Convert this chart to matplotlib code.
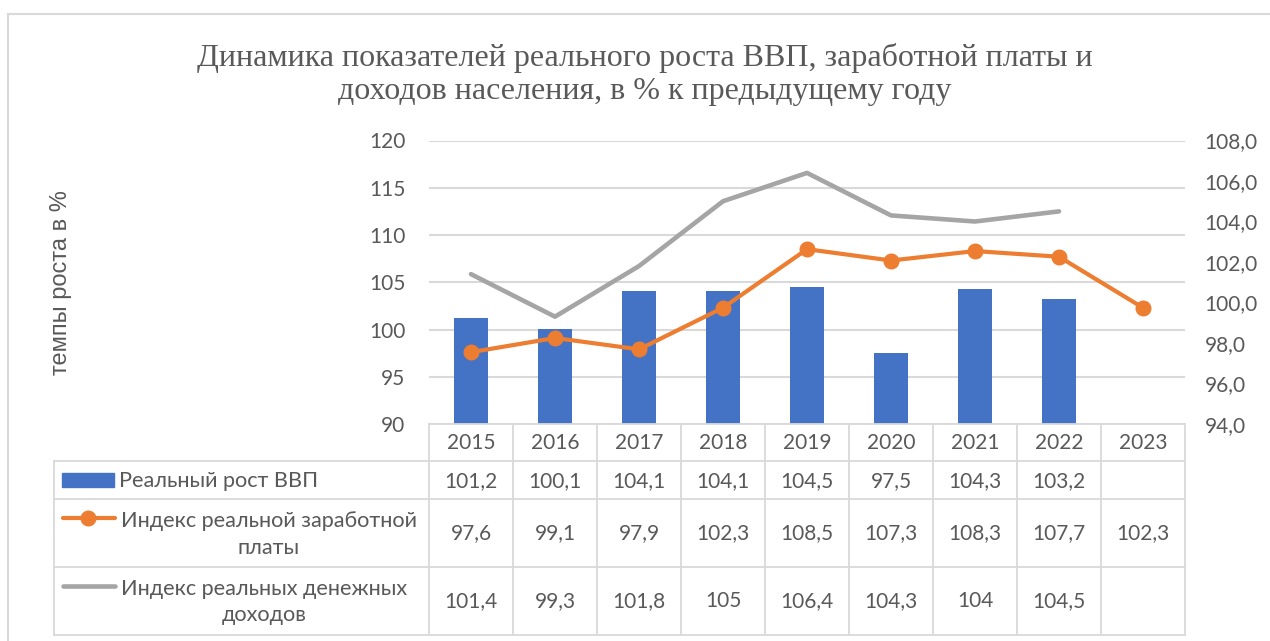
import numpy as np
import matplotlib
matplotlib.use('Agg')
import matplotlib.pyplot as plt
from matplotlib.lines import Line2D
from matplotlib.patches import Rectangle
import matplotlib.transforms as mtrans

years = ['2015', '2016', '2017', '2018', '2019', '2020', '2021', '2022', '2023']
gdp = [101.2, 100.1, 104.1, 104.1, 104.5, 97.5, 104.3, 103.2, None]
wages = [97.6, 99.1, 97.9, 102.3, 108.5, 107.3, 108.3, 107.7, 102.3]
income = [101.4, 99.3, 101.8, 105, 106.4, 104.3, 104, 104.5, None]

# how the values are printed in the table (as in the source)
gdp_txt = ['101,2', '100,1', '104,1', '104,1', '104,5', '97,5', '104,3', '103,2', '']
wages_txt = ['97,6', '99,1', '97,9', '102,3', '108,5', '107,3', '108,3', '107,7', '102,3']
income_txt = ['101,4', '99,3', '101,8', '105', '106,4', '104,3', '104', '104,5', '']

gdp_lbl = 'Реальный рост ВВП'
wages_lbl = 'Индекс реальной заработной\nплаты'
income_lbl = 'Индекс реальных денежных\nдоходов'

BLUE = '#4472C4'
ORANGE = '#ED7D31'
GRAY = '#A5A5A5'
TXT = '#595959'
GRID = '#D9D9D9'
FONT = 'Lato'
FS = 15

W, H = 1270, 641


def fx(px):
  return px / W


def fy(py):
  return 1 - py / H


def main():
  fig = plt.figure(figsize=(W / 100, H / 100), dpi=100)
  x = np.arange(len(years))
  ax = fig.add_axes([fx(429), fy(424), fx(1185 - 429), (424 - 140.5) / H])
  ax2 = ax.twinx()

  g = np.array([np.nan if v is None else v for v in gdp])
  ax.bar(x, g - 90, bottom=90, width=0.4, color=BLUE, zorder=2)
  ax.plot(x, wages, color=ORANGE, lw=3, marker='o', ms=10.5, zorder=4)
  inc = np.array([np.nan if v is None else v for v in income])
  ax2.plot(x, inc, color=GRAY, lw=3.3, zorder=3, solid_capstyle='round')

  ax.set_xlim(-0.5, len(years) - 0.5)
  ax.set_ylim(90, 120)
  ax.set_yticks(np.arange(90, 121, 5))
  ax2.set_ylim(94, 108)
  r_ticks = np.arange(94, 108.1, 2)
  ax2.set_yticks(r_ticks)
  ax2.set_yticklabels([('%.1f' % t).replace('.', ',') for t in r_ticks])
  ax.set_xticks([])
  ax.grid(axis='y', color=GRID, lw=1.5, zorder=0)
  ax.set_axisbelow(True)
  for a in (ax, ax2):
    for s in a.spines.values():
      s.set_visible(False)
    a.tick_params(axis='y', length=0, labelsize=FS, labelcolor=TXT)
    for lab in a.get_yticklabels():
      lab.set_fontfamily(FONT)
  ax.tick_params(axis='y', pad=17)
  ax2.tick_params(axis='y', pad=14)

  ax.set_ylabel('темпы роста в %', fontsize=17, color=TXT, family='Liberation Sans')
  ax.yaxis.set_label_coords((72 - 429) / (1185 - 429), 0.5)

  fig.text(0.508, fy(74.5), 'Динамика показателей реального роста ВВП, заработной платы и\nдоходов населения, в % к предыдущему году',
           ha='center', va='center', fontsize=23, color=TXT, family='Liberation Serif', linespacing=1.16)

  # data table below the axes
  rows_y = [424, 461, 499, 567, 635]
  tr = mtrans.blended_transform_factory(ax.transData, fig.transFigure)
  lw = 1.3
  fig.add_artist(Line2D([fx(429), fx(1185)], [fy(424)] * 2, color=GRID, lw=lw))
  for yy in rows_y[1:]:
    fig.add_artist(Line2D([fx(54), fx(1185)], [fy(yy)] * 2, color=GRID, lw=lw))
  fig.add_artist(Line2D([fx(54)] * 2, [fy(461), fy(635)], color=GRID, lw=lw))
  for i in range(len(years) + 1):
    xx = 429 + i * (1185 - 429) / len(years)
    fig.add_artist(Line2D([fx(xx)] * 2, [fy(424), fy(635)], color=GRID, lw=lw))

  for i, yr in enumerate(years):
    fig.text(i, fy(443), yr, transform=tr, ha='center', va='center', fontsize=FS, color=TXT, family=FONT)
    for col, yc in zip([gdp_txt, wages_txt, income_txt], [481, 533, 601]):
      fig.text(i, fy(yc), col[i], transform=tr, ha='center', va='center',
               fontsize=FS, color=TXT, family=FONT)

  # legend keys
  fs_leg = 15.6
  fig.add_artist(Rectangle((fx(62), fy(487)), fx(52), 14 / H, color=BLUE))
  fig.add_artist(Line2D([fx(63), fx(115)], [fy(518)] * 2, color=ORANGE, lw=3, solid_capstyle='round'))
  fig.add_artist(Line2D([fx(88)], [fy(518)], color=ORANGE, marker='o', ms=10.5, lw=0))
  fig.add_artist(Line2D([fx(63), fx(115)], [fy(586)] * 2, color=GRAY, lw=3.3, solid_capstyle='round'))
  fig.text(fx(119), fy(481), gdp_lbl, ha='left', va='center', fontsize=fs_leg, color=TXT, family=FONT)
  fig.text(fx(269), fy(534.5), wages_lbl, ha='center', va='center', fontsize=fs_leg, color=TXT, family=FONT,
           multialignment='center', linespacing=1.4)
  fig.text(fx(264), fy(602), income_lbl, ha='center', va='center', fontsize=fs_leg, color=TXT, family=FONT,
           multialignment='center', linespacing=1.4)

  # chart border (cut by the image edge on right and bottom)
  fig.add_artist(Line2D([fx(8), 1], [fy(14)] * 2, color=GRID, lw=1.5))
  fig.add_artist(Line2D([fx(8)] * 2, [fy(14), 0], color=GRID, lw=1.5))

  fig.savefig('out.png', dpi=100)


if __name__ == '__main__':
  main()
